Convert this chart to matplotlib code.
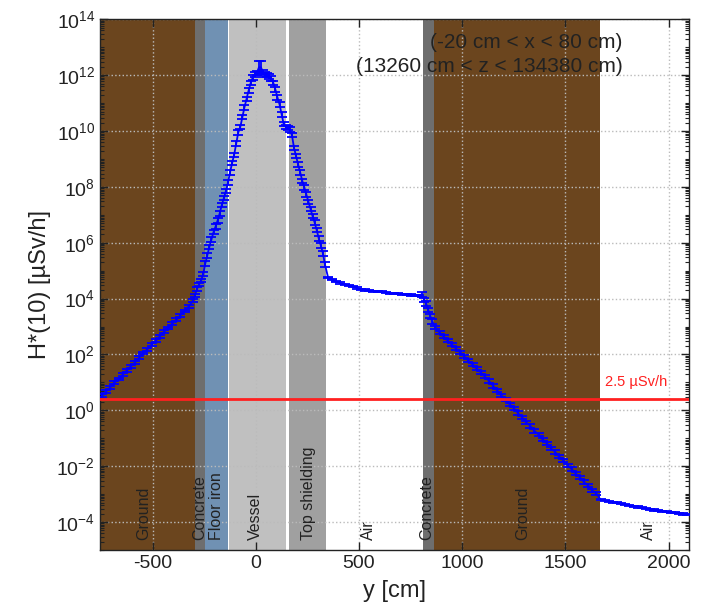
import numpy as np
import matplotlib
matplotlib.use("Agg")
import matplotlib.pyplot as plt
from matplotlib.ticker import LogLocator, LogFormatterMathtext, NullFormatter
import matplotlib.transforms as mtransforms

plt.rcParams['font.family'] = ['Liberation Sans', 'DejaVu Sans']
plt.rcParams['mathtext.fontset'] = 'custom'
plt.rcParams['mathtext.rm'] = 'Liberation Sans'
plt.rcParams['mathtext.it'] = 'Liberation Sans:italic'
plt.rcParams['axes.unicode_minus'] = False

# bin centres [cm] and log10(H*(10)), per segment
x_ground1 = np.arange(-745, -300, 20)
log_ground1 = [0.52, 0.68, 0.82, 0.99, 1.12, 1.28, 1.43, 1.58, 1.72, 1.88, 2.05, 2.19,
               2.35, 2.49, 2.65, 2.81, 2.95, 3.10, 3.24, 3.40, 3.56, 3.72, 3.92]

x_mid = np.arange(-295, 345, 10)
log_mid = [4.12, 4.35, 4.50, 4.65, 4.88, 5.25, 5.55, 5.85, 6.12, 6.38,
           6.58, 6.80, 7.05, 7.35, 7.60, 7.85, 8.15, 8.52, 8.85, 9.15,
           9.55, 9.95, 10.15, 10.50, 10.85, 11.15, 11.45, 11.72, 11.92, 12.03,
           12.08, 12.28, 12.28, 12.10, 12.03, 12.00, 11.96, 11.88, 11.72, 11.48,
           11.20, 10.95, 10.60, 10.25, 10.15, 10.10, 10.05, 9.85, 9.40, 9.10,
           8.80, 8.52, 8.22, 7.98, 7.72, 7.45, 7.20, 6.95, 6.72, 6.45,
           6.15, 5.90, 5.62, 5.22]
err_mid = [0.05, 0.06, 0.06, 0.06, 0.08, 0.08, 0.08, 0.08, 0.08, 0.08,
           0.08, 0.08, 0.08, 0.08, 0.08, 0.08, 0.08, 0.08, 0.08, 0.08,
           0.08, 0.08, 0.08, 0.08, 0.08, 0.08, 0.08, 0.08, 0.08, 0.08,
           0.08, 0.22, 0.22, 0.08, 0.08, 0.08, 0.08, 0.08, 0.08, 0.08,
           0.08, 0.08, 0.08, 0.08, 0.08, 0.08, 0.08, 0.08, 0.08, 0.08,
           0.08, 0.08, 0.08, 0.08, 0.08, 0.08, 0.08, 0.08, 0.08, 0.08,
           0.08, 0.08, 0.08, 0.10]

x_air1 = np.arange(350, 800, 20)
log_air1 = [4.76, 4.68, 4.61, 4.56, 4.52, 4.47, 4.42, 4.38, 4.34, 4.31, 4.28, 4.27,
            4.26, 4.24, 4.22, 4.19, 4.18, 4.17, 4.16, 4.15, 4.13, 4.12, 4.12]

x_conc2 = np.arange(805, 865, 10)
log_conc2 = [4.15, 3.95, 3.82, 3.60, 3.38, 3.18]

x_ground2 = np.arange(870, 1660, 20)
log_ground2 = [2.97, 2.78, 2.64, 2.49, 2.35, 2.21, 2.08, 1.93, 1.78, 1.64,
               1.49, 1.36, 1.20, 1.05, 0.87, 0.71, 0.53, 0.39, 0.21, 0.07,
               -0.10, -0.25, -0.43, -0.56, -0.74, -0.87, -1.05, -1.18, -1.36, -1.49,
               -1.66, -1.79, -1.97, -2.10, -2.27, -2.40, -2.57, -2.70, -2.87, -2.98]

x_air2 = np.arange(1670, 2100, 20)
log_air2 = [-3.20, -3.23, -3.26, -3.29, -3.31, -3.34, -3.37, -3.40, -3.43, -3.46, -3.49,
            -3.51, -3.54, -3.57, -3.59, -3.61, -3.63, -3.65, -3.67, -3.69, -3.71, -3.73]

# material layers along y [cm]
layer_start = [-770, -295, -245, -129, 161, 808, 864]
layer_end = [-295, -245, -135, 145, 340, 864, 1667]
layer_color = ['#6b451e', '#6e6e6e', '#7091b3', '#c0c0c0', '#a0a0a0', '#6e6e6e', '#6b451e']

region_names = ['Ground', 'Concrete', 'Floor iron', 'Vessel', 'Top shielding',
                'Air', 'Concrete', 'Ground', 'Air']
region_pos = [-545, -270, -189, 0, 253, 544, 829, 1294, 1900]

limit_value = 2.5

x = np.concatenate([x_ground1, x_mid, x_air1, x_conc2, x_ground2, x_air2])
logh = np.concatenate([log_ground1, log_mid, log_air1, log_conc2, log_ground2, log_air2])
err = np.concatenate([np.full(len(x_ground1), 0.05), err_mid, np.full(len(x_air1), 0.02),
                      np.full(len(x_conc2), 0.08), np.full(len(x_ground2), 0.06),
                      np.full(len(x_air2), 0.02)])
h = 10.0 ** logh
yerr = [h - 10.0 ** (logh - err), 10.0 ** (logh + err) - h]

fig = plt.figure(figsize=(7.1, 6.13), dpi=100)
ax = fig.add_axes([0.1408, 0.1028, 0.8292, 0.8657])

for a, b, c in zip(layer_start, layer_end, layer_color):
    ax.axvspan(a, b, color=c, lw=0, zorder=0.5)

ax.errorbar(x, h, yerr=yerr, fmt='-', color='#0000ff', lw=1.3, elinewidth=1.3,
            capsize=3.5, capthick=1.3, zorder=3)
ax.axhline(limit_value, color='#ff2020', lw=2, zorder=4)

ax.set_yscale('log')
ax.set_xlim(-755, 2097)
ax.set_ylim(1e-5, 1e14)

ax.set_xticks([-500, 0, 500, 1000, 1500, 2000])
ax.set_yticks([10.0 ** k for k in range(-4, 15, 2)])
ax.yaxis.set_major_formatter(LogFormatterMathtext())
ax.yaxis.set_minor_locator(LogLocator(base=10, subs=np.arange(1, 10), numticks=100))
ax.yaxis.set_minor_formatter(NullFormatter())
ax.tick_params(which='both', direction='in', top=True, right=True, colors='#222222',
               labelsize=14)
ax.tick_params(which='major', length=6, width=1)
ax.tick_params(which='minor', length=3, width=0.8)
ax.set_axisbelow('line')
ax.grid(True, which='major', ls=':', color='#bbbbbb', lw=1)

for s in ax.spines.values():
    s.set_color('#222222')
    s.set_linewidth(1)

ax.set_xlabel('y [cm]', fontsize=17, color='#222222', labelpad=6)
ax.set_ylabel('H*(10) [µSv/h]', fontsize=17, color='#222222', labelpad=4)

trans = mtransforms.blended_transform_factory(ax.transData, ax.transAxes)
for name, pos in zip(region_names, region_pos):
    ax.text(pos, 0.019, name, rotation=90, ha='center', va='bottom', fontsize=11.5,
            color='#222222', transform=trans, zorder=5)

trans_r = mtransforms.blended_transform_factory(ax.transAxes, ax.transData)
ax.text(0.963, 10, '2.5 µSv/h', color='#ff2020', fontsize=10.5,
        ha='right', va='center', transform=trans_r, zorder=5)

fig.text(622.7 / 710, 1 - 42.7 / 613, '(-20 cm < x < 80 cm)', ha='right', va='center',
         fontsize=15, color='#222222')
fig.text(622.7 / 710, 1 - 66.7 / 613, '(13260 cm < z < 134380 cm)', ha='right',
         va='center', fontsize=15, color='#222222')

fig.savefig('out.png', dpi=100)
